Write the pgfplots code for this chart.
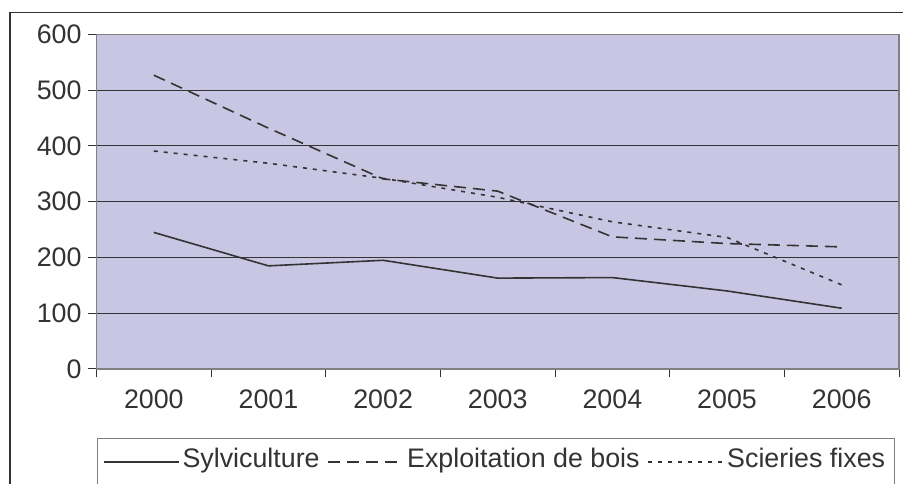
\documentclass[border=0pt]{standalone}
\usepackage{fontspec}
\setmainfont{Liberation Sans}
\usepackage{pgfplots}
\pgfplotsset{compat=1.18}

\definecolor{plotbg}{RGB}{201,198,227}
\definecolor{ink}{RGB}{51,51,51}
\definecolor{framegray}{RGB}{128,128,128}
\newcommand{\chartfont}{\fontsize{26.8}{32}\selectfont}

\begin{document}
\begin{tikzpicture}
% outer chart frame (right and bottom edges fall outside the picture)
\draw[ink, line width=1.5pt] (10pt,-20pt) -- (10pt,471.5pt) -- (925pt,471.5pt);

\begin{axis}[
    at={(96.5pt,115pt)}, anchor=south west,
    scale only axis, width=802.5pt, height=334.5pt,
    xmin=-0.5, xmax=6.5,
    ymin=0, ymax=600,
    xtick={0,1,2,3,4,5,6},
    xticklabels={2000,2001,2002,2003,2004,2005,2006},
    minor xtick={-0.5,0.5,1.5,2.5,3.5,4.5,5.5,6.5},
    ytick={0,100,200,300,400,500,600},
    tick align=outside, tick pos=left,
    major tick length=8.5pt, minor tick length=8.5pt,
    major x tick style={draw=none},
    tick style={ink, line width=1pt},
    ymajorgrids,
    major grid style={ink, line width=1pt},
    axis background/.style={fill=plotbg},
    axis line style={framegray, line width=1.2pt},
    /pgf/number format/assume math mode=true,
    ticklabel style={font=\chartfont, text=ink},
    yticklabel style={xshift=-3pt},
    xticklabel style={yshift=-9pt},
    legend columns=-1,
    legend image code/.code={\draw[#1] (0pt,5pt) -- (75pt,5pt);},
    legend style={
        at={(0,-0.2063)}, anchor=north west,
        draw=framegray, line width=1pt, fill=white,
        inner xsep=6pt, inner ysep=7pt,
        font=\chartfont, text=ink,
        cells={anchor=base west},
        nodes={inner ysep=2pt, inner xsep=3pt, text height=19.5pt, text depth=14pt},
        /tikz/every even column/.append style={column sep=5pt},
    },
]
\addplot[ink, line width=1.6pt] coordinates {
    (0,245) (1,185) (2,195) (3,163) (4,164) (5,140) (6,109)};
\addlegendentry{Sylviculture}
\addplot[ink, line width=1.6pt, dash pattern=on 12pt off 7pt] coordinates {
    (0,527) (1,432) (2,341) (3,319) (4,237) (5,225) (6,219)};
\addlegendentry{Exploitation de bois}
\addplot[ink, line width=1.6pt, dash pattern=on 4pt off 6pt] coordinates {
    (0,391) (1,369) (2,342) (3,308) (4,264) (5,236) (6,151)};
\addlegendentry{Scieries fixes}
\end{axis}

\pgfresetboundingbox
\useasboundingbox (0pt,0pt) rectangle (903pt,484pt);
\end{tikzpicture}
\end{document}
